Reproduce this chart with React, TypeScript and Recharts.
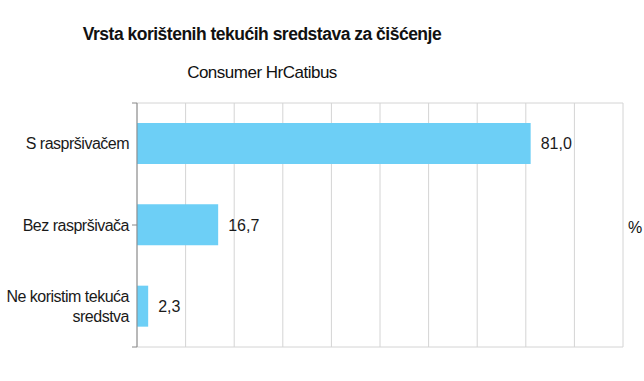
import React from 'react';
import { BarChart, Bar, XAxis, YAxis, CartesianGrid, LabelList } from 'recharts';

const categories = ['S raspršivačem', 'Bez raspršivača', 'Ne koristim tekuća sredstva'];
const values = [81.0, 16.7, 2.3];
const xTicks = [0, 10, 20, 30, 40, 50, 60, 70, 80, 90, 100];
const bandTicks = [0, 1, 2, 3];

const data = categories.map((name, i) => ({ name, value: values[i] }));

const FONT = '"Liberation Sans", Arial, sans-serif';

const CatTick = (props: any) => {
  const { x, y, payload } = props;
  const text: string = payload.value;
  let lines: string[] = [text];
  if (text.length > 18) {
    const words = text.split(' ');
    lines = [words.slice(0, 3).join(' '), words.slice(3).join(' ')];
  }
  const lh = 20;
  const start = -((lines.length - 1) * lh) / 2;
  return (
    <text x={x} y={y} textAnchor="end" fill="#1a1a1a" fontSize={16} letterSpacing={-0.5} fontFamily={FONT}>
      {lines.map((l, i) => (
        <tspan key={i} x={x} y={y + start + i * lh} dy="0.36em">{l}</tspan>
      ))}
    </text>
  );
};

const NoTick = () => <g />;

export default function App() {
  return (
    <div style={{ position: 'absolute', left: 0, top: 0, width: 644, height: 381, background: '#fff' }}>
      <div style={{ position: 'absolute', left: 0, width: 524, top: 22, textAlign: 'center', fontFamily: FONT, fontWeight: 'bold', fontSize: 17.5, letterSpacing: -0.5, color: '#111', lineHeight: '24px' }}>
        Vrsta korištenih tekućih sredstava za čišćenje
      </div>
      <div style={{ position: 'absolute', left: 0, width: 524, top: 61, textAlign: 'center', fontFamily: FONT, fontSize: 17, letterSpacing: -0.5, color: '#111', lineHeight: '24px' }}>
        Consumer HrCatibus
      </div>
      <div style={{ position: 'absolute', left: 628, top: 218, fontFamily: FONT, fontSize: 16, color: '#111', lineHeight: '20px' }}>%</div>
      <BarChart
        width={644}
        height={381}
        data={data}
        layout="vertical"
        margin={{ top: 102, right: 21, bottom: 33, left: 0 }}
        barCategoryGap="25%"
      >
        <CartesianGrid xAxisId={0} yAxisId="z" horizontal={false} stroke="#d4d4d4" strokeWidth={1} />
        <XAxis xAxisId={0} type="number" domain={[0, 100]} ticks={xTicks} tick={<NoTick />} tickLine={false} axisLine={{ stroke: '#d4d4d4' }} height={1} orientation="bottom" />
        <XAxis xAxisId="t" type="number" domain={[0, 100]} ticks={xTicks} tick={<NoTick />} tickLine={false} axisLine={{ stroke: '#d4d4d4' }} height={1} orientation="top" />
        <YAxis yAxisId="z" type="category" dataKey="name" tick={<CatTick />} tickLine={false} tickSize={0} axisLine={false} width={132} tickMargin={3} orientation="left" />
        <YAxis yAxisId="a" type="number" domain={[0, 3]} ticks={bandTicks} tick={<NoTick />} tickLine={{ stroke: '#888' }} tickSize={5} axisLine={{ stroke: '#888' }} width={5} orientation="left" />
        <Bar xAxisId={0} yAxisId="z" dataKey="value" fill="#6dcff6" isAnimationActive={false} barSize={41}>
          <LabelList dataKey="value" position="right" offset={10} fill="#1a1a1a" fontSize={16} fontFamily={FONT} formatter={(v: any) => Number(v).toFixed(1).replace('.', ',')} />
        </Bar>
      </BarChart>
    </div>
  );
}
